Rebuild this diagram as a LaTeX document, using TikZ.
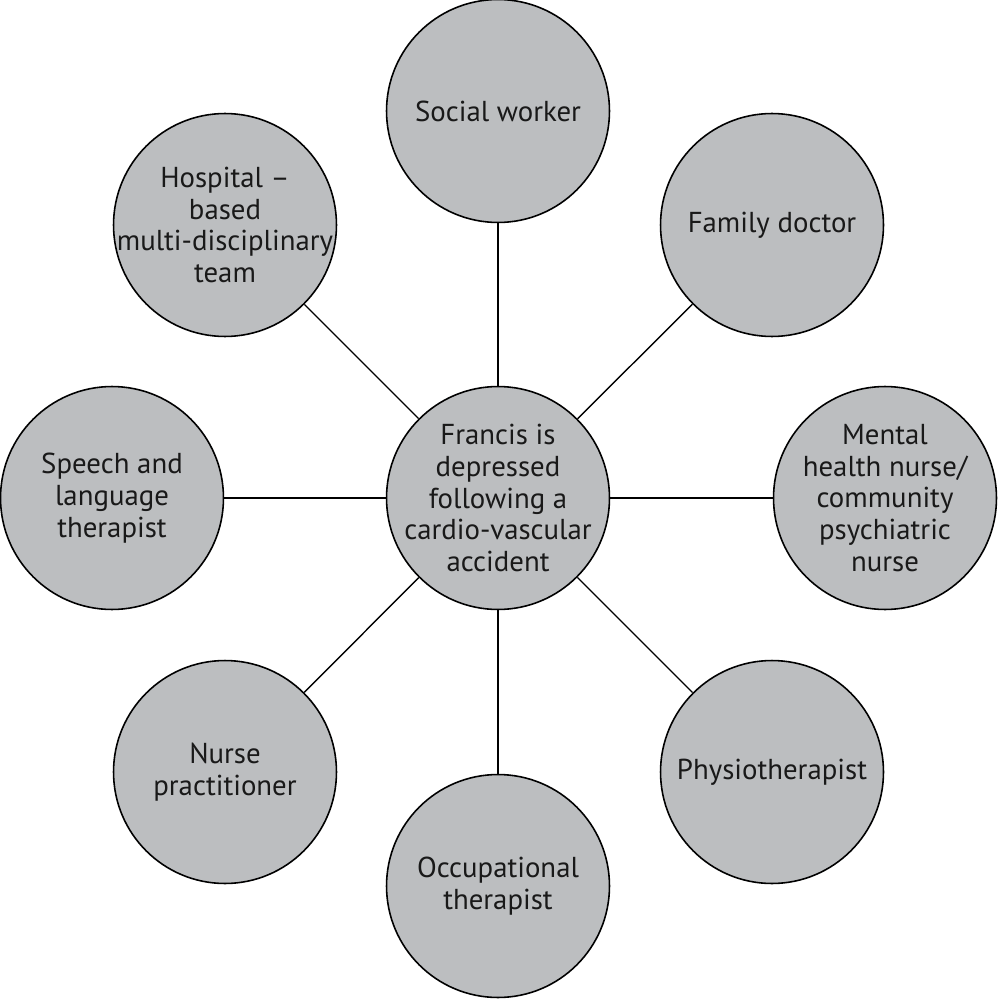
\documentclass[tikz,border=0pt]{standalone}
\usepackage{fontspec}
\setmainfont{PT Sans}
\usepackage{tikz}
\definecolor{bubblegrey}{HTML}{BCBEC0}

\begin{document}
\begin{tikzpicture}[x=0.02cm,y=-0.02cm,
    bubble/.style={circle,draw,line width=0.9pt,fill=bubblegrey,minimum size=4.46cm,inner sep=-30pt,
      align=center,font=\fontsize{16.4}{18}\selectfont,text=black!90}]

        \useasboundingbox (0,0) rectangle (998,1000);

        \node[bubble]         (c) at (498, 498)        {Francis is\\depressed\\following a\\cardio-vascular\\accident};
        \node[bubble]         (social) at (498, 111)   {Social worker};
        \node[bubble]         (family) at (772, 225)   {Family doctor};
        \node[bubble]         (mental) at (885, 498)   {Mental\\health nurse/\\community\\psychiatric\\nurse};
        \node[bubble]         (physio) at (772, 772)   {Physiotherapist};
        \node[bubble]         (occup) at (498, 886)    {Occupational\\therapist};
        \node[bubble]         (nurse) at (225, 772)    {Nurse\\practitioner};
        \node[bubble]         (speech) at (112, 498)   {Speech and\\language\\therapist};
        \node[bubble]         (hospital) at (225, 225) {Hospital --\\based\\multi-disciplinary\\team};

        \draw (c) edge[ -,line width=0.8pt]  (social);
        \draw (c) edge[ -,line width=0.8pt]  (family);
        \draw (c) edge[ -,line width=0.8pt]  (mental);
        \draw (c) edge[ -,line width=0.8pt]  (physio);
        \draw (c) edge[ -,line width=0.8pt]  (occup);
        \draw (c) edge[ -,line width=0.8pt]  (nurse);
        \draw (c) edge[ -,line width=0.8pt]  (speech);
        \draw (c) edge[ -,line width=0.8pt]  (hospital);
      \end{tikzpicture}
\end{document}
